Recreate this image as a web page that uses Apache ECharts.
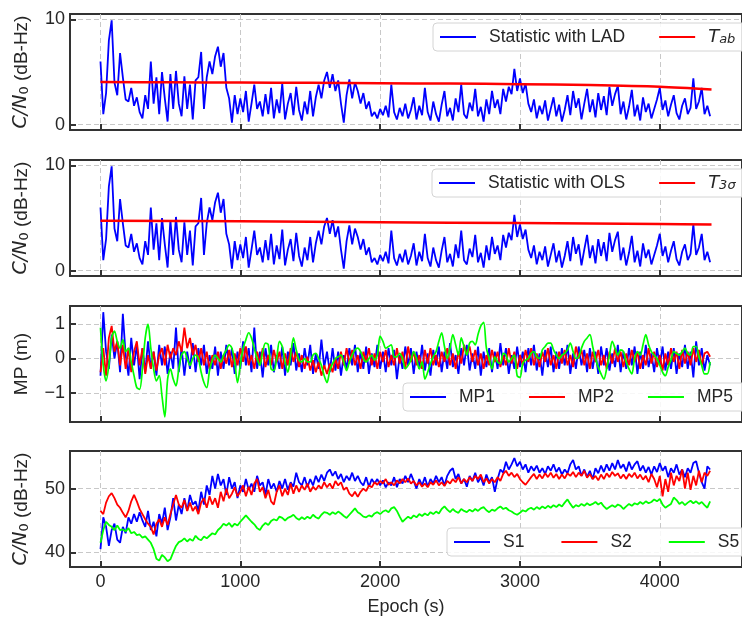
<!DOCTYPE html>
<html><head><meta charset="utf-8">
<script src="https://cdn.jsdelivr.net/npm/echarts@6/dist/echarts.min.js"></script>
<style>html,body{margin:0;padding:0;background:#fff}#c{width:742px;height:621px}</style>
</head><body><div id="c"></div>
<script>
const STEP = 20; // epoch spacing of the sampled values (s)
const xTicks = [0, 1000, 2000, 3000, 4000];
const cnTicks = [0, 10];
const mpTicks = [-1, 0, 1];
const sTicks = [40, 50];

const ladStatistic = [6.0,1.0,3.0,8.0,9.9,4.0,2.8,6.8,4.5,2.4,2.2,
3.5,1.8,2.6,1.2,0.6,2.8,1.5,6.0,2.0,4.5,
1.0,5.0,2.5,0.3,4.8,1.5,5.1,2.0,0.8,4.6,
1.5,3.8,0.5,4.2,4.5,6.9,1.5,4.5,6.0,4.8,
6.5,7.4,5.5,6.8,3.5,2.5,0.2,2.8,1.0,2.5,
1.2,3.2,0.3,2.0,3.8,1.5,2.2,0.8,2.9,1.0,
3.5,0.6,2.4,1.1,3.9,0.5,2.0,3.0,0.9,3.6,
1.4,0.4,2.2,1.0,3.2,0.8,2.6,3.8,2.5,4.2,
5.0,3.5,4.8,3.2,4.2,2.0,0.2,2.8,4.3,2.5,
4.0,3.2,2.0,3.0,1.5,2.2,0.8,1.2,0.6,1.5,
0.9,1.8,0.7,3.8,1.2,0.5,1.6,0.8,2.0,0.6,
1.4,2.6,0.5,1.8,0.9,3.5,1.2,0.4,2.2,1.0,
0.3,1.9,3.2,0.8,1.6,0.4,2.5,1.2,3.8,1.0,
0.6,2.1,1.3,3.4,0.8,1.7,0.3,2.4,1.0,3.2,
1.6,2.4,1.0,3.4,2.2,3.6,2.9,5.3,3.2,4.4,
3.0,3.9,2.0,1.2,2.4,0.6,1.8,1.0,2.3,0.4,
1.5,2.6,0.8,1.9,0.3,1.4,2.8,0.9,3.2,1.6,
2.5,0.5,2.0,3.4,1.2,2.4,0.7,3.0,1.4,2.7,
0.9,3.6,1.8,2.9,3.7,1.0,2.2,0.5,1.7,3.3,
0.8,1.9,0.4,2.6,1.2,2.0,0.6,1.5,2.4,3.5,
1.4,2.3,0.8,1.9,2.8,1.1,0.5,1.8,2.5,1.0,
1.6,4.4,1.5,2.2,3.5,1.0,1.8,0.8];
// the OLS statistic reads identical to the LAD statistic in the picture
const olsStatistic = ladStatistic;

const tabEpochs = [0, 500, 1000, 1500, 2000, 2500, 3000, 3500, 4000, 4370];
const tabValues = [4.05, 4.03, 4.0, 3.97, 3.93, 3.9, 3.85, 3.76, 3.6, 3.34];
const t3sEpochs = [0, 1000, 2000, 3000, 4000, 4370];
const t3sValues = [4.75, 4.68, 4.6, 4.52, 4.42, 4.38];

const mp1 = [-0.5,1.35,0.2,-0.3,0.7,0.0,0.5,-0.4,1.3,0.1,-0.5,
0.6,-0.2,0.4,-0.6,0.3,-0.4,0.5,-0.3,0.2,-0.5,
0.4,-0.2,0.35,-0.45,0.2,-0.3,0.9,-0.4,0.3,-0.5,
0.2,-0.3,0.45,-0.4,0.3,-0.2,0.4,-0.45,0.1,-0.3,
0.35,-0.5,0.2,-0.3,0.4,-0.2,0.3,-0.45,0.2,-0.3,
0.5,-0.2,0.3,-0.4,0.9,-0.3,0.2,-0.55,0.3,-0.2,
0.4,-0.4,0.1,-0.3,0.35,-0.5,0.2,-0.2,0.45,-0.35,
0.15,-0.4,0.3,-0.2,0.4,-0.45,0.15,-0.3,0.55,-0.25,
0.2,-0.4,0.3,-0.35,0.2,-0.5,0.1,-0.3,0.3,-0.2,
0.4,-0.4,0.2,-0.3,0.35,-0.45,0.15,-0.25,0.4,-0.3,
0.2,-0.4,0.3,-0.2,0.25,-0.6,0.1,-0.3,0.35,-0.2,
0.3,-0.45,0.2,-0.3,0.4,-0.35,0.15,-0.5,0.25,-0.2,
0.35,-0.4,0.2,-0.3,0.45,-0.25,0.1,-0.45,0.3,-0.2,
0.4,-0.35,0.15,-0.3,0.35,-0.5,0.2,-0.25,0.3,-0.4,
0.2,-0.3,0.45,-0.2,0.3,-0.45,0.1,-0.3,0.35,-0.25,
0.2,-0.4,0.3,-0.2,0.4,-0.35,0.15,-0.5,0.25,-0.25,
0.35,-0.4,0.2,-0.3,0.3,-0.2,0.4,-0.45,0.15,-0.3,
0.35,-0.2,0.25,-0.4,0.3,-0.3,0.2,-0.45,0.35,-0.2,
0.3,-0.35,0.15,-0.25,0.4,-0.4,0.2,-0.3,0.3,-0.2,
0.35,-0.45,0.2,-0.3,0.4,-0.25,0.15,-0.4,0.3,-0.2,
0.35,-0.35,0.2,-0.3,0.3,-0.45,0.15,-0.25,0.4,-0.3,
0.2,-0.55,0.5,-0.2,0.3,-0.35,0.1,-0.2];

const mp2 = [-0.4,0.3,-0.5,0.6,0.95,0.2,0.5,-0.2,0.4,-0.3,0.3,
-0.4,0.2,0.5,-0.2,0.3,-0.45,0.1,-0.3,0.2,-0.35,
0.1,0.3,-0.2,0.4,0.0,0.3,0.1,0.5,0.2,0.9,
0.3,0.6,0.1,0.4,-0.1,0.3,-0.2,0.2,-0.3,0.1,
-0.2,0.2,-0.3,0.1,-0.15,0.25,-0.25,0.15,-0.2,0.3,
-0.1,0.35,-0.2,0.1,-0.3,0.2,-0.15,0.3,-0.25,0.1,
-0.2,0.25,-0.1,0.2,-0.3,0.15,-0.2,0.3,-0.1,0.2,
-0.25,0.1,-0.3,0.05,-0.35,-0.05,-0.4,-0.1,-0.5,-0.2,
-0.45,-0.15,-0.4,0.0,-0.3,0.2,-0.2,0.3,-0.15,0.25,
-0.2,0.1,-0.3,0.2,-0.1,0.3,-0.2,0.15,-0.3,0.2,
-0.1,0.25,-0.25,0.1,-0.2,0.3,-0.15,0.2,-0.3,0.35,
-0.1,0.2,-0.2,0.1,-0.3,0.25,-0.15,0.3,-0.2,0.1,
-0.25,0.2,-0.1,0.3,-0.2,0.15,-0.3,0.2,-0.15,0.4,
0.1,0.35,-0.1,0.25,-0.2,0.15,-0.3,0.1,-0.2,0.25,
-0.1,0.2,-0.25,0.1,-0.2,0.3,-0.15,0.2,-0.3,0.1,
-0.2,0.25,-0.1,0.3,-0.2,0.15,-0.25,0.2,-0.1,0.3,
-0.2,0.1,-0.3,0.2,-0.15,0.25,-0.2,0.1,-0.25,0.35,
0.0,0.25,-0.2,0.15,-0.3,0.2,-0.1,0.25,-0.2,0.1,
-0.3,0.2,-0.15,0.3,-0.1,0.2,-0.25,0.15,-0.2,0.25,
-0.1,0.2,-0.3,0.1,-0.2,0.3,-0.15,0.2,-0.25,0.1,
-0.35,0.15,-0.2,0.3,-0.1,0.2,-0.3,0.25,-0.15,0.2,
-0.2,0.3,-0.1,0.25,-0.2,0.15,0.2,0.05];

const mp5 = [0.9,-0.2,-0.65,-0.2,0.6,0.8,0.5,0.3,0.55,0.2,0.3,
-0.1,-0.5,-0.85,-0.9,-0.3,0.6,1.0,0.3,-0.3,-0.65,
-0.5,-1.1,-1.7,-0.6,-0.3,-0.6,-0.8,-0.3,0.1,0.2,
0.0,-0.2,0.0,0.1,0.0,-0.4,-0.7,-0.85,-0.35,-0.05,
0.1,0.0,-0.1,0.1,0.25,0.4,0.3,-0.1,-0.7,-0.2,
0.3,0.55,0.75,0.6,0.3,0.0,-0.2,0.2,0.45,0.4,
-0.3,-0.35,0.0,0.5,0.35,-0.1,-0.4,0.1,0.6,0.25,
-0.05,-0.1,0.0,-0.1,-0.1,0.1,0.15,0.0,-0.2,-0.5,
-0.7,-0.35,-0.15,0.0,0.05,0.1,-0.1,-0.35,-0.1,0.1,
0.25,0.3,0.2,0.0,-0.1,0.0,0.1,-0.05,0.1,0.65,
0.5,0.3,0.35,0.4,0.05,0.05,0.15,0.0,-0.3,-0.2,
-0.05,0.2,0.0,-0.3,-0.1,-0.6,-0.4,-0.15,0.05,0.2,
0.5,0.75,0.35,0.0,0.3,0.7,0.4,0.1,0.6,0.35,
0.1,0.45,0.5,0.4,0.7,0.95,1.05,0.3,0.0,-0.3,
0.05,-0.1,-0.15,0.15,0.1,-0.1,0.0,0.1,-0.5,-0.55,
-0.15,-0.05,0.0,0.15,0.2,0.05,0.0,0.25,0.35,0.45,
0.45,0.25,0.1,0.0,0.1,0.15,0.25,0.45,0.2,0.0,
0.05,0.3,0.5,0.6,0.7,0.35,0.0,-0.25,-0.45,-0.6,
-0.3,0.1,0.5,0.3,0.1,0.25,0.2,-0.1,-0.3,-0.45,
0.0,0.2,0.1,0.4,0.7,0.4,0.2,0.1,0.0,-0.2,
-0.4,-0.5,-0.25,-0.05,0.2,0.15,0.1,0.2,0.3,0.15,
0.1,0.35,0.35,0.05,-0.2,-0.45,-0.45,-0.1];

const s1 = [40.5,45.5,44.0,41.0,43.5,44.5,42.0,41.5,44.0,43.0,45.5,
44.5,46.0,44.8,46.3,45.0,44.0,46.5,43.5,44.8,42.5,
46.0,44.5,47.0,43.5,45.5,48.5,45.0,47.5,46.0,48.5,
46.5,49.0,47.5,48.0,46.5,49.5,47.5,50.5,49.0,52.0,
50.0,52.3,50.5,51.5,49.0,51.8,50.0,51.0,48.5,50.5,
49.5,51.5,49.8,50.8,49.5,52.0,50.5,51.0,49.0,51.5,
50.0,50.8,49.5,51.2,50.0,51.5,49.8,51.0,50.3,52.5,
51.0,50.5,51.8,50.2,51.5,50.5,52.0,51.0,52.2,51.2,
52.5,53.0,52.0,52.7,51.5,52.3,51.0,52.0,51.3,52.5,
51.2,52.0,51.0,50.5,51.8,50.3,51.5,50.8,51.5,50.5,
51.3,50.2,51.0,50.5,51.8,50.2,51.5,50.8,52.0,51.0,
52.3,51.2,50.0,51.5,50.5,51.8,50.3,51.5,50.8,52.0,
51.0,51.8,50.5,52.0,52.8,53.2,51.5,52.3,50.8,51.5,
50.3,52.0,51.2,52.5,51.0,51.8,50.5,52.2,51.0,51.8,
49.5,51.5,53.0,52.5,54.2,53.0,53.8,54.8,53.5,54.2,
53.0,53.8,52.5,53.5,52.8,53.6,52.5,53.2,52.3,53.5,
52.8,53.8,52.6,53.3,52.2,53.0,52.4,53.8,54.5,53.0,
53.5,52.0,53.0,51.8,52.8,51.5,53.2,52.4,53.6,52.6,
53.8,52.8,54.0,53.0,54.5,53.2,53.8,52.7,54.2,53.0,
53.8,54.3,52.8,53.6,52.5,53.4,52.2,53.5,52.6,54.0,
52.8,53.5,51.8,53.2,52.5,53.8,52.2,53.0,51.8,53.2,
52.5,54.0,54.3,52.5,51.0,50.0,53.5,53.0];

const s2 = [46.5,46.0,47.8,48.8,49.3,48.5,47.5,47.0,46.2,45.5,46.5,
48.0,49.0,48.0,46.8,46.0,45.2,44.5,44.0,42.8,44.5,
45.2,44.0,45.5,44.3,46.0,47.5,49.0,47.5,47.0,48.2,
46.5,47.8,46.5,47.2,46.0,47.8,48.5,47.0,48.8,47.5,
48.5,47.0,49.5,48.0,50.0,48.5,49.2,50.2,48.8,49.5,
50.5,48.8,50.3,49.0,50.8,51.5,49.5,50.2,48.5,49.8,
48.0,47.5,49.5,50.5,48.8,50.0,49.0,50.8,49.2,50.5,
49.5,50.5,49.8,50.8,49.5,50.3,49.8,50.5,50.0,51.0,
50.2,50.8,50.0,51.2,50.5,51.0,49.8,50.2,49.2,48.8,
49.5,48.7,49.5,50.0,49.6,50.5,50.2,51.0,50.6,51.2,
50.8,51.5,50.6,51.0,50.5,51.3,50.8,51.5,51.0,51.6,
50.8,51.2,50.5,51.0,50.3,50.8,50.2,51.0,50.6,51.3,
50.5,51.0,50.4,51.2,50.8,51.5,51.0,51.8,50.8,51.5,
51.0,51.8,51.2,52.0,51.5,52.2,51.0,51.6,50.8,51.5,
51.0,51.8,51.2,52.3,52.8,52.0,52.5,51.8,52.3,51.5,
51.0,50.6,51.2,51.8,52.3,51.5,52.2,51.6,52.4,51.8,
52.5,51.7,52.3,51.5,52.2,51.6,52.4,52.0,52.6,51.8,
52.5,52.0,52.8,51.7,52.3,51.5,52.0,51.3,52.2,51.5,
52.4,51.8,52.6,52.0,52.4,51.6,52.2,51.5,52.3,51.8,
52.5,51.6,52.2,51.4,52.0,51.0,52.3,51.5,50.2,52.0,
48.8,51.5,49.5,52.5,50.5,52.0,51.2,53.0,50.0,52.5,
49.8,52.0,50.5,52.8,51.0,52.5,52.0,52.8];

const s5 = [41.5,43.5,44.8,44.3,44.0,43.5,44.2,43.5,43.6,43.3,43.8,
43.0,43.2,42.7,42.8,42.3,42.5,42.0,41.5,40.5,39.0,
38.7,39.6,39.2,38.6,38.9,40.0,41.0,41.6,41.8,42.2,
41.7,42.1,41.8,42.6,42.1,41.9,42.5,42.2,42.6,43.0,
42.8,43.5,43.9,44.5,44.2,44.6,44.0,44.5,44.2,44.8,
45.3,45.8,45.3,44.8,44.4,43.8,43.5,44.2,44.6,44.3,
44.9,45.2,45.0,45.6,45.4,45.0,45.4,45.6,45.9,45.4,
45.1,45.5,45.2,45.6,45.3,45.9,45.5,45.3,45.9,46.3,
46.2,45.9,46.3,46.0,46.4,46.1,45.7,45.4,45.9,46.4,
46.9,46.3,46.0,45.6,45.5,45.8,45.6,46.1,46.3,46.0,
46.4,46.6,46.3,46.9,47.1,46.5,45.6,44.8,45.2,45.6,
45.3,45.8,45.5,46.0,45.7,46.1,45.8,46.3,46.0,46.4,
46.1,46.8,47.2,46.7,46.3,46.8,46.4,46.2,46.8,46.5,
46.3,46.7,46.4,46.8,46.5,46.9,47.1,46.6,46.3,46.7,
46.5,46.9,47.2,46.8,47.0,46.6,46.4,46.1,45.9,46.2,
46.6,46.4,46.8,47.0,46.7,47.1,46.8,47.2,46.9,47.3,
47.0,47.4,47.1,47.5,47.2,47.8,48.3,47.6,47.0,47.4,
47.2,47.6,47.3,47.7,47.4,47.6,47.9,47.5,47.8,47.2,
46.8,47.1,47.4,47.1,47.5,47.3,46.8,47.2,47.6,47.3,
47.7,47.5,47.9,47.6,48.0,47.7,47.9,48.3,48.0,48.4,
47.5,47.0,47.3,47.6,48.6,48.2,47.6,47.9,47.4,47.8,
48.1,47.7,48.0,47.6,47.9,47.4,47.0,48.0];

const BLUE = '#0000ff', RED = '#ff0000', GREEN = '#00ff00';
const TXT = '#262626';
const FONT = '"Liberation Sans", Arial, sans-serif';
const MATH = '"DejaVu Sans", sans-serif';
const gridTops = [14, 160, 306, 451];
const GRID_H = 116;

function pairs(vals) { return vals.map((v, i) => [i * STEP, v]); }
function zip(xs, ys) { return xs.map((x, i) => [x, ys[i]]); }

const grids = gridTops.map(t => ({
  left: 70, right: -11, top: t, height: GRID_H,
  show: true, borderColor: '#333', borderWidth: 2, backgroundColor: 'transparent'
}));

const dashed = { show: true, lineStyle: { type: [5, 3], color: '#c8c8c8', width: 1 } };
const tickStyle = { show: true, inside: true, length: 6, lineStyle: { color: '#333', width: 2 } };

const xAxes = gridTops.map((t, i) => ({
  gridIndex: i, type: 'value', min: -218, max: 4588,
  axisLine: { show: false, onZero: false },
  axisTick: Object.assign({ customValues: xTicks }, tickStyle),
  axisLabel: { show: i === 3, customValues: xTicks, color: TXT, fontSize: 18, fontFamily: FONT, margin: 6,
               formatter: v => String(v) },
  splitLine: dashed,
  name: i === 3 ? 'Epoch (s)' : '', nameLocation: 'middle', nameGap: 31,
  nameTextStyle: { color: TXT, fontSize: 18, fontFamily: FONT }
}));

const cnName = '{i|C/N}{s|0}{t| (dB-Hz)}';
const nameRich = {
  i: { fontStyle: 'italic', fontSize: 19, color: TXT, fontFamily: MATH },
  s: { fontSize: 13, color: TXT, fontFamily: MATH, verticalAlign: 'bottom' },
  t: { fontSize: 19, color: TXT, fontFamily: FONT }
};
const yRanges = [[-0.5, 10.5, cnTicks, cnName], [-0.5, 10.5, cnTicks, cnName],
                 [-1.85, 1.53, mpTicks, 'MP (m)'], [37.7, 55.9, sTicks, cnName]];
const yAxes = yRanges.map((r, i) => ({
  gridIndex: i, type: 'value', min: r[0], max: r[1],
  axisLine: { show: false, onZero: false },
  axisTick: Object.assign({ customValues: r[2] }, tickStyle),
  axisLabel: { customValues: r[2], color: TXT, fontSize: 18, fontFamily: FONT, margin: 5,
               formatter: v => String(v).replace('-', '\u2212') },
  splitLine: dashed,
  name: r[3], nameLocation: 'middle', nameRotate: 90, nameGap: 39,
  nameTextStyle: { color: TXT, fontSize: 19, fontFamily: FONT, rich: nameRich }
}));

function line(name, data, color, gi, width, extra) {
  return Object.assign({
    name, type: 'line', data, xAxisIndex: gi, yAxisIndex: gi,
    showSymbol: false, symbol: 'none', animation: false,
    lineStyle: { color, width }, itemStyle: { color }
  }, extra || {});
}

const series = [
  line('Statistic with LAD', pairs(ladStatistic), BLUE, 0, 1.8),
  line('Tab', zip(tabEpochs, tabValues), RED, 0, 2.5, { smooth: 0.3 }),
  line('Statistic with OLS', pairs(olsStatistic), BLUE, 1, 1.8),
  line('T3s', zip(t3sEpochs, t3sValues), RED, 1, 2.5, { smooth: 0.3 }),
  line('MP1', pairs(mp1), BLUE, 2, 1.8),
  line('MP2', pairs(mp2), RED, 2, 1.8),
  line('MP5', pairs(mp5), GREEN, 2, 1.7, { smooth: 0.3 }),
  line('S1', pairs(s1), BLUE, 3, 1.8),
  line('S2', pairs(s2), RED, 3, 1.8),
  line('S5', pairs(s5), GREEN, 3, 1.8)
];

const legendRich = {
  i: { fontStyle: 'italic', fontSize: 18, color: TXT, fontFamily: MATH },
  sub: { fontStyle: 'italic', fontSize: 13, color: TXT, fontFamily: MATH, verticalAlign: 'bottom' }
};
function legendFmt(n) {
  if (n === 'Tab') return '{i|T}{sub|ab}';
  if (n === 'T3s') return '{i|T}{sub|3\u03c3}';
  return n;
}
function legend(data, left, top, gap) {
  return {
    data, left, top, width: 460, orient: 'horizontal',
    icon: 'rect', itemWidth: 36, itemHeight: 2.2, itemGap: gap,
    formatter: legendFmt,
    textStyle: { color: TXT, fontSize: 17.5, fontFamily: FONT, padding: [0, 0, 0, 8], rich: legendRich },
    backgroundColor: 'rgba(255,255,255,0.85)', borderColor: '#d4d4d4', borderWidth: 1, borderRadius: 4,
    padding: [5, 40, 5, 7]
  };
}

const chart = echarts.init(document.getElementById('c'), null, { renderer: 'canvas' });
chart.setOption({
  animation: false,
  backgroundColor: '#fff',
  grid: grids, xAxis: xAxes, yAxis: yAxes, series,
  legend: [
    legend(['Statistic with LAD', 'Tab'], 433, 23, 34),
    legend(['Statistic with OLS', 'T3s'], 432, 169, 34),
    legend(['MP1', 'MP2', 'MP5'], 403, 383, 34),
    legend(['S1', 'S2', 'S5'], 447, 528, 37)
  ]
});
</script></body></html>
